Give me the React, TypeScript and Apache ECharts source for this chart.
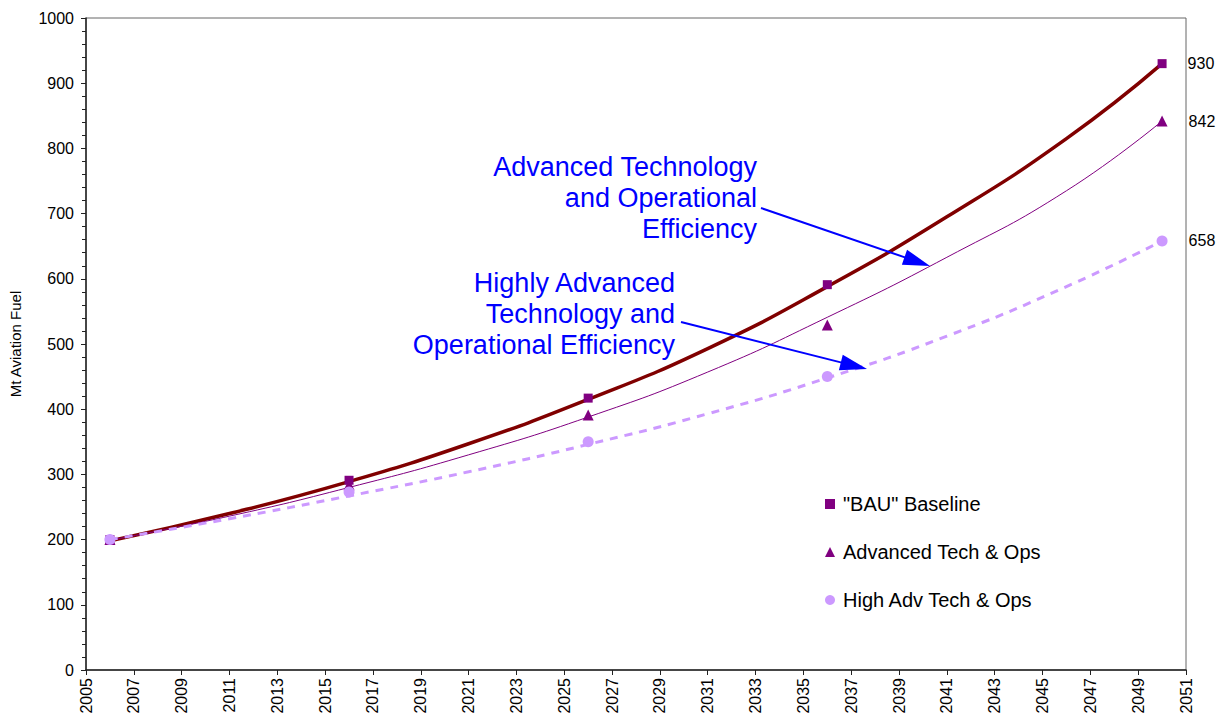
import React, { useEffect, useRef } from "react";
import * as echarts from "echarts";

const BASE_YEAR = 2005;
const MAX_YEAR = 2051;

// Projection points (markers)
const markerYears = [2006, 2016, 2026, 2036, 2050];
const bauValues = [200, 291, 417, 591, 930];
const advValues = [200, 284, 391, 529, 842];
const highValues = [200, 273, 350, 450, 658];

// Trend curves
const trendYears = [2006, 2011, 2016, 2021, 2026, 2031, 2036, 2041, 2046, 2050];
const bauTrend = [198, 240, 289, 347, 415, 493, 588, 695, 815, 930];
const advTrend = [199, 236, 280, 330, 388, 457, 541, 633, 735, 842];
const highTrend = [200, 232, 267, 304, 346, 393, 448, 512, 588, 658];

const seriesNames = ['"BAU" Baseline', "Advanced Tech & Ops", "High Adv Tech & Ops"];
const yAxisTitle = "Mt Aviation Fuel";
const annotation1 = ["Advanced Technology", "and Operational", "Efficiency"];
const annotation2 = ["Highly Advanced", "Technology and", "Operational Efficiency"];

const FONT = "'Liberation Sans', Arial, Helvetica, sans-serif";

function pairs(years: number[], values: number[], labelLast = false) {
  return years.map((y, i) => {
    const item: any = { value: [y - BASE_YEAR, values[i]] };
    if (labelLast && i === years.length - 1) {
      item.label = {
        show: true,
        position: "right",
        distance: 21,
        formatter: String(values[i]),
        color: "#000",
        fontSize: 16,
        fontFamily: FONT,
      };
    }
    return item;
  });
}

function arrow(x1: number, y1: number, x2: number, y2: number, headLen: number, halfW: number) {
  const dx = x2 - x1;
  const dy = y2 - y1;
  const len = Math.sqrt(dx * dx + dy * dy);
  const ux = dx / len;
  const uy = dy / len;
  const bx = x2 - ux * headLen;
  const by = y2 - uy * headLen;
  const px = -uy * halfW;
  const py = ux * halfW;
  return [
    {
      type: "line",
      shape: { x1, y1, x2: bx + ux * 2, y2: by + uy * 2 },
      style: { stroke: "#0000FF", lineWidth: 2 },
      z: 100,
    },
    {
      type: "polygon",
      shape: { points: [[x2, y2], [bx + px, by + py], [bx - px, by - py]] },
      style: { fill: "#0000FF" },
      z: 100,
    },
  ];
}

export default function App() {
  const ref = useRef<HTMLDivElement>(null);

  useEffect(() => {
    if (!ref.current) return;
    const chart = echarts.init(ref.current, undefined, { renderer: "svg" });
    const option: any = {
      animation: false,
      backgroundColor: "#ffffff",
      textStyle: { fontFamily: FONT },
      grid: {
        left: 86,
        right: 40,
        top: 18,
        bottom: 48,
        outerBoundsMode: "none",
        containLabel: false,
        show: true,
        borderColor: "#666",
        borderWidth: 1,
        backgroundColor: "transparent",
      },
      legend: {
        orient: "vertical",
        left: 820,
        top: 489,
        itemWidth: 10,
        itemHeight: 10,
        itemGap: 28,
        textStyle: { fontSize: 20, color: "#000", fontFamily: FONT, padding: [0, 0, 0, 3] },
        data: seriesNames,
      },
      xAxis: {
        type: "value",
        min: 0,
        max: MAX_YEAR - BASE_YEAR,
        interval: 2,
        axisLine: { show: true, lineStyle: { color: "#222", width: 1.5 } },
        axisTick: { show: true, length: 5, lineStyle: { color: "#222" } },
        splitLine: { show: false },
        axisLabel: {
          rotate: 90,
          fontSize: 16,
          color: "#000",
          fontFamily: FONT,
          margin: 8,
          formatter: (v: number) => String(v + BASE_YEAR),
        },
      },
      yAxis: {
        type: "value",
        min: 0,
        max: 1000,
        interval: 100,
        name: yAxisTitle,
        nameLocation: "middle",
        nameRotate: 90,
        nameGap: 63,
        nameTextStyle: { fontSize: 15, color: "#000", fontFamily: FONT },
        axisLine: { show: true, lineStyle: { color: "#222", width: 1.5 } },
        axisTick: { show: true, length: 5, lineStyle: { color: "#222" } },
        minorTick: { show: true, splitNumber: 5, length: 4, lineStyle: { color: "#222" } },
        splitLine: { show: false },
        axisLabel: {
          fontSize: 16,
          color: "#000",
          fontFamily: FONT,
          margin: 12,
          formatter: (v: number) => String(v),
        },
      },
      series: [
        {
          name: "bauTrend",
          type: "line",
          smooth: true,
          symbol: "none",
          data: pairs(trendYears, bauTrend),
          lineStyle: { color: "#800000", width: 3.5 },
          z: 3,
        },
        {
          name: "advTrend",
          type: "line",
          smooth: true,
          symbol: "none",
          data: pairs(trendYears, advTrend),
          lineStyle: { color: "#800080", width: 1 },
          z: 3,
        },
        {
          name: "highTrend",
          type: "line",
          smooth: true,
          symbol: "none",
          data: pairs(trendYears, highTrend),
          lineStyle: { color: "#CC99FF", width: 3, type: [8, 7] },
          z: 3,
        },
        {
          name: seriesNames[0],
          type: "scatter",
          symbol: "rect",
          symbolSize: 9,
          itemStyle: { color: "#800080", opacity: 1 },
          data: pairs(markerYears, bauValues, true),
          z: 5,
        },
        {
          name: seriesNames[1],
          type: "scatter",
          symbol: "triangle",
          symbolSize: 11,
          itemStyle: { color: "#800080", opacity: 1 },
          data: pairs(markerYears, advValues, true),
          z: 5,
        },
        {
          name: seriesNames[2],
          type: "scatter",
          symbol: "circle",
          symbolSize: 11,
          itemStyle: { color: "#CC99FF", opacity: 1 },
          data: pairs(markerYears, highValues, true),
          z: 5,
        },
      ],
      graphic: [
        {
          type: "text",
          x: 757,
          y: 151,
          z: 100,
          style: {
            text: annotation1.join("\n"),
            fill: "#0000FF",
            fontSize: 27,
            fontFamily: FONT,
            lineHeight: 31,
            textAlign: "right",
            textVerticalAlign: "top",
          },
        },
        {
          type: "text",
          x: 675,
          y: 267,
          z: 100,
          style: {
            text: annotation2.join("\n"),
            fill: "#0000FF",
            fontSize: 27,
            fontFamily: FONT,
            lineHeight: 31,
            textAlign: "right",
            textVerticalAlign: "top",
          },
        },
        ...arrow(761, 208, 930, 266, 27, 8),
        ...arrow(681, 322, 867, 369, 27, 8),
      ],
    };
    chart.setOption(option);
    return () => chart.dispose();
  }, []);

  return (
    <div
      ref={ref}
      style={{ position: "fixed", left: 0, top: 0, width: 1226, height: 718, background: "#fff" }}
    />
  );
}
